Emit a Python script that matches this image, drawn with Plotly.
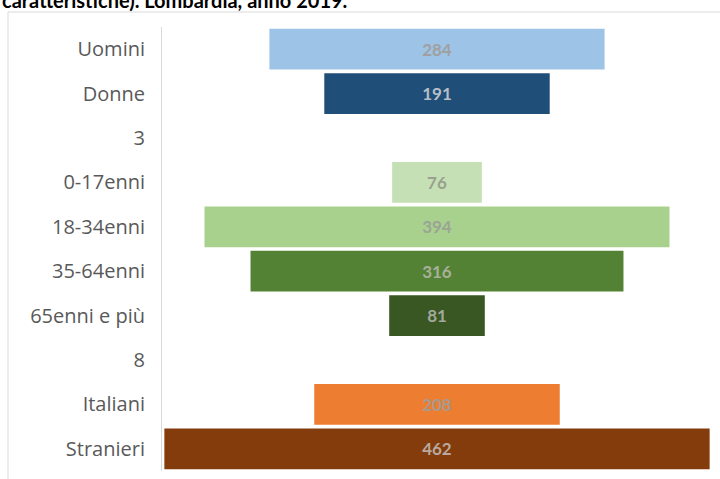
import plotly.graph_objects as go

categories = ["Uomini", "Donne", "3", "0-17enni", "18-34enni", "35-64enni",
              "65enni e più", "8", "Italiani", "Stranieri"]
values = [284, 191, None, 76, 394, 316, 81, None, 208, 462]
colors = ["#9dc3e6", "#1f4e79", "#ffffff", "#c5e0b4", "#a9d18e", "#548235",
          "#385723", "#ffffff", "#ed7d31", "#843c0c"]
label_colors = ["#a0a0a0", "#b8bec6", "#a0a0a0", "#9aa08f", "#9aa595", "#a8b09a",
                "#a4a89c", "#a0a0a0", "#a49a90", "#b8aaa0"]
title_text = "caratteristiche). Lombardia, anno 2019."

fig = go.Figure()
fig.add_trace(go.Funnel(
    y=categories,
    x=values,
    marker=dict(color=colors, line=dict(width=0)),
    connector=dict(visible=False),
    texttemplate="<b>%{value}</b>",
    textposition="inside",
    insidetextanchor="middle",
    textfont=dict(family="Lato", size=17, color=label_colors),
    constraintext="none",
    width=0.92,
    hoverinfo="y+x",
))

L, R, T, B = 162, 8, 27, 8
W, H = 720, 479
pw, ph = W - L - R, H - T - B

fig.update_layout(
    width=W, height=H,
    margin=dict(l=L, r=R, t=T, b=B),
    paper_bgcolor="white", plot_bgcolor="white",
    showlegend=False,
    xaxis=dict(visible=False, range=[-233, 233], fixedrange=True),
    yaxis=dict(type="category", categoryorder="array", categoryarray=categories,
               autorange="reversed", showline=True, linecolor="#d9d9d9",
               linewidth=1, showgrid=False, zeroline=False, ticks="",
               ticklabelstandoff=12,
               tickfont=dict(family="Open Sans", size=20, color="#595959")),
    font=dict(family="Open Sans"),
)

# outer chart frame (partially visible, as in the cropped reference)
fig.add_shape(type="rect", xref="paper", yref="paper",
              x0=(8 - L) / pw, x1=(W + 5 - L) / pw,
              y0=(H - B - (H + 5)) / ph, y1=(H - B - 12) / ph,
              line=dict(color="#d9d9d9", width=1), fillcolor="rgba(0,0,0,0)",
              layer="below")

fig.add_annotation(text="<b>" + title_text + "</b>", xref="paper", yref="paper",
                   x=(0 - L) / pw, xanchor="left",
                   y=(H - B - 14) / ph, yanchor="bottom",
                   showarrow=False,
                   font=dict(family="Lato", size=20, color="#000000"))

fig.write_html("out.html")
